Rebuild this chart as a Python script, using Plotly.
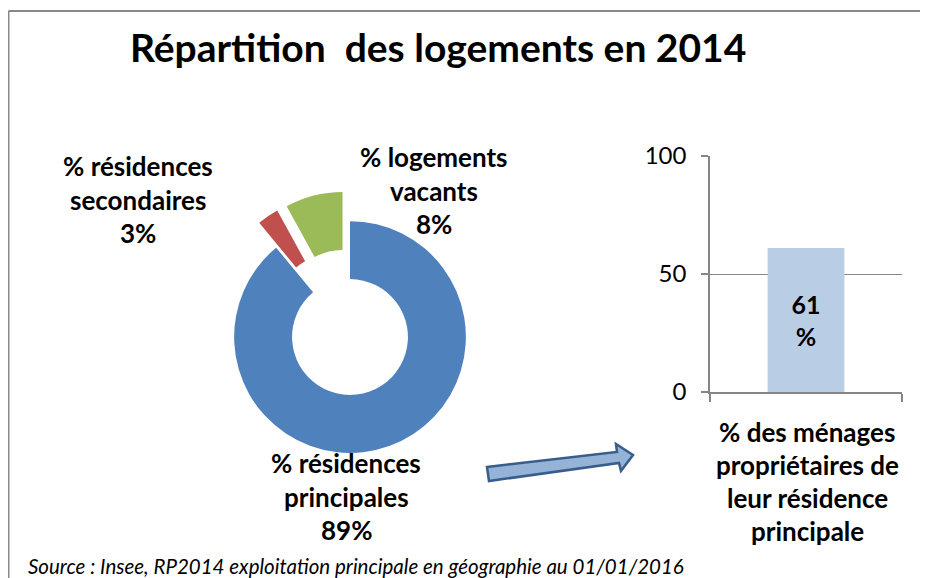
import plotly.graph_objects as go

W, H = 928, 578
OFF = 8  # page body margin of the browser

# ---- data ----
pie_labels = ["% résidences principales", "% résidences secondaires", "% logements vacants"]
pie_values = [89, 3, 8]
pie_label_lines = [["% résidences", "principales"], ["% résidences", "secondaires"], ["% logements", "vacants"]]
pie_colors = ["#4F81BD", "#C0504D", "#9BBB59"]
pie_pull = [0, 0.26, 0.26]

bar_category = ["% des ménages propriétaires de leur résidence principale"]
bar_category_lines = ["% des ménages", "propriétaires de", "leur résidence", "principale"]
bar_values = [61]
y_ticks = [0, 50, 100]

title_text = "Répartition  des logements en 2014"
source_text = "Source : Insee, RP2014 exploitation principale en géographie au 01/01/2016"

FONT = "Lato"


def px(x):
    return (x - OFF) / W


def py(y):
    return 1 - (y - OFF) / H


fig = go.Figure()

# donut
cx, cy, size = 350, 337, 292
fig.add_trace(go.Pie(
    labels=pie_labels, values=pie_values, hole=0.5, sort=False,
    direction="clockwise", rotation=0, pull=pie_pull,
    marker=dict(colors=pie_colors, line=dict(width=0)),
    textinfo="none", hoverinfo="label+percent", showlegend=False,
    domain=dict(x=[px(cx - size / 2), px(cx + size / 2)],
                y=[py(cy + size / 2), py(cy - size / 2)]),
))

# bar
fig.add_trace(go.Bar(
    x=[0], y=bar_values, width=0.4, marker=dict(color="#B9CDE5", line=dict(width=0)),
    text=[f"{v}<br>%" for v in bar_values], textposition="inside",
    insidetextanchor="middle", textangle=0,
    textfont=dict(family=FONT, size=25, color="#000000", weight="bold"),
    showlegend=False, hovertext=bar_category, xaxis="x", yaxis="y",
))

axcol = "#868686"
fig.update_layout(
    width=W, height=H, margin=dict(l=0, r=0, t=0, b=0),
    paper_bgcolor="white", plot_bgcolor="white",
    xaxis=dict(domain=[px(710), px(902)], range=[-0.5, 0.5],
               tickvals=[-0.5, 0.5], ticktext=["", ""], ticks="outside",
               ticklen=8, tickcolor=axcol, tickwidth=1.5,
               showline=True, linecolor=axcol, linewidth=1.5,
               showgrid=False, zeroline=False, fixedrange=True, automargin=False),
    yaxis=dict(domain=[py(392), py(156)], range=[0, 100],
               tickvals=y_ticks, ticks="outside", ticklen=7, tickcolor=axcol,
               tickwidth=1.5, ticklabelstandoff=10,
               tickfont=dict(family=FONT, size=24, color="#000000"),
               showline=True, linecolor=axcol, linewidth=1.5,
               showgrid=True, gridcolor=axcol, gridwidth=1.2,
               zeroline=False, fixedrange=True, automargin=False),
)

annotations = []
# title
annotations.append(dict(text=f"<b>{title_text}</b>", x=px(438), y=py(47),
                        xref="paper", yref="paper", showarrow=False,
                        xanchor="center", yanchor="middle",
                        font=dict(family=FONT, size=39, color="#000000")))

# pie labels (one annotation per line)
label_pos = [(346, 463), (138, 166), (434, 157)]
for lines, v, (lx, ly) in zip(pie_label_lines, pie_values, label_pos):
    for i, t in enumerate(lines + [f"{v}%"]):
        annotations.append(dict(text=f"<b>{t}</b>", x=px(lx), y=py(ly + i * 33.5),
                                xref="paper", yref="paper", showarrow=False,
                                xanchor="center", yanchor="middle",
                                font=dict(family=FONT, size=26, color="#000000")))

# bar category label
for i, t in enumerate(bar_category_lines):
    annotations.append(dict(text=f"<b>{t}</b>", x=px(807), y=py(432 + i * 33),
                            xref="paper", yref="paper", showarrow=False,
                            xanchor="center", yanchor="middle",
                            font=dict(family=FONT, size=26, color="#000000")))

# source
annotations.append(dict(text=f"<i>{source_text}</i>", x=px(26), y=py(566),
                        xref="paper", yref="paper", showarrow=False,
                        xanchor="left", yanchor="middle",
                        font=dict(family=FONT, size=20.5, color="#000000")))
fig.update_layout(annotations=annotations)

# decorative frame and arrow
arrow_pts = [(487, 467), (617, 452), (616, 444), (633, 455), (621, 471), (619, 463), (489, 481)]
path = "M " + " L ".join(f"{px(x):.5f},{py(y):.5f}" for x, y in arrow_pts) + " Z"
shapes = [
    dict(type="line", xref="paper", yref="paper", x0=0.5 / W, x1=1, y0=py(11), y1=py(11),
         line=dict(color="#898989", width=2)),
    dict(type="line", xref="paper", yref="paper", x0=0.5 / W, x1=0.5 / W, y0=py(11), y1=0,
         line=dict(color="#898989", width=2)),
    dict(type="path", xref="paper", yref="paper", path=path,
         fillcolor="#95B3D7", line=dict(color="#385D8A", width=2.5)),
]
fig.update_layout(shapes=shapes)

fig.write_html("out.html")
